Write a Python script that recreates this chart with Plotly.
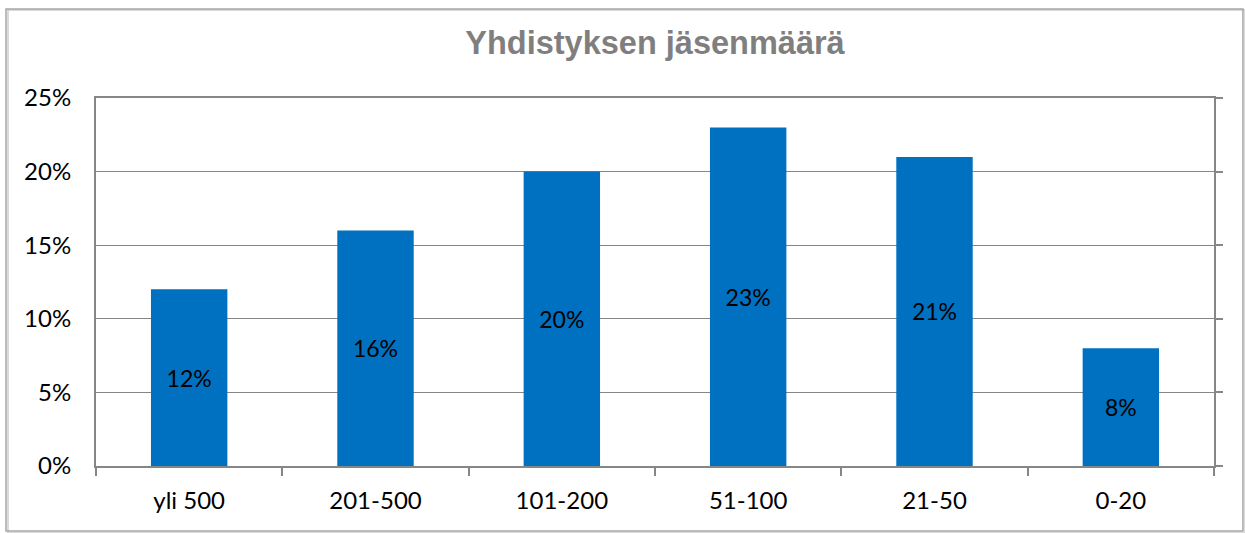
import plotly.graph_objects as go

# Yhdistyksen jäsenmäärä - share of associations by member count
categories = ['yli 500', '201-500', '101-200', '51-100', '21-50', '0-20']
shares = [0.12, 0.16, 0.20, 0.23, 0.21, 0.08]
y_ticks = [0, 0.05, 0.10, 0.15, 0.20, 0.25]
y_tick_labels = ['0%', '5%', '10%', '15%', '20%', '25%']

grey = '#868686'
font_body = 'Lato'

fig = go.Figure()

fig.add_trace(go.Bar(
    x=categories,
    y=shares,
    marker=dict(color='#0070C0', line=dict(width=0)),
    text=[f'{v:.0%}' for v in shares],
    textposition='inside',
    insidetextanchor='middle',
    textangle=0,
    textfont=dict(family=font_body, size=23, color='black'),
    hoverinfo='skip',
))

# invisible trace so the right-hand tick axis gets drawn
fig.add_trace(go.Scatter(
    x=categories,
    y=shares,
    yaxis='y2',
    mode='markers',
    marker=dict(opacity=0),
    hoverinfo='skip',
    showlegend=False,
))

fig.update_layout(
    width=1245,
    height=533,
    margin=dict(l=96, r=31, t=98, b=67),
    paper_bgcolor='white',
    plot_bgcolor='white',
    showlegend=False,
    bargap=0.59,
    title=dict(
        text='<b>Yhdistyksen jäsenmäärä</b>',
        font=dict(family='Liberation Sans', size=32.5, color='#7F7F7F'),
        x=0.5, xref='paper', xanchor='center',
        y=1 - 43 / 533, yref='container', yanchor='middle',
    ),
    xaxis=dict(
        type='category',
        tickson='boundaries',
        ticks='outside',
        ticklen=8,
        tickwidth=1.5,
        tickcolor=grey,
        ticklabelstandoff=12,
        showline=True,
        linecolor=grey,
        linewidth=2,
        mirror=True,
        showgrid=False,
        tickfont=dict(family=font_body, size=24, color='black'),
    ),
    yaxis=dict(
        range=[0, 0.25],
        tickvals=y_ticks,
        ticktext=y_tick_labels,
        ticks='outside',
        ticklen=18,
        tickcolor='rgba(0,0,0,0)',
        showline=True,
        linecolor=grey,
        linewidth=2,
        mirror=True,
        showgrid=True,
        gridcolor=grey,
        gridwidth=1,
        zeroline=False,
        tickfont=dict(family=font_body, size=24, color='black'),
    ),
    yaxis2=dict(
        range=[0, 0.25],
        tickvals=y_ticks,
        overlaying='y',
        side='right',
        ticks='outside',
        ticklen=8,
        tickwidth=1.5,
        tickcolor=grey,
        showticklabels=False,
        showgrid=False,
        zeroline=False,
        showline=False,
    ),
    shapes=[
        # soft shadow, then the outer chart frame
        dict(
            type='rect', xref='paper', yref='paper',
            x0=-0.0787, x1=1.0277, y0=-0.1820, y1=1.2390,
            line=dict(color='#D9D9D9', width=2),
            layer='below',
        ),
        dict(
            type='rect', xref='paper', yref='paper',
            x0=-0.0805, x1=1.0259, y0=-0.1766, y1=1.2418,
            line=dict(color='#A6A6A6', width=1.5),
            layer='below',
        ),
    ],
)

# drop the browser's default body margin so the chart sits at the page corner
fig.write_html(
    'out.html',
    config={'displayModeBar': False},
    post_script="document.body.style.margin='0';",
)
